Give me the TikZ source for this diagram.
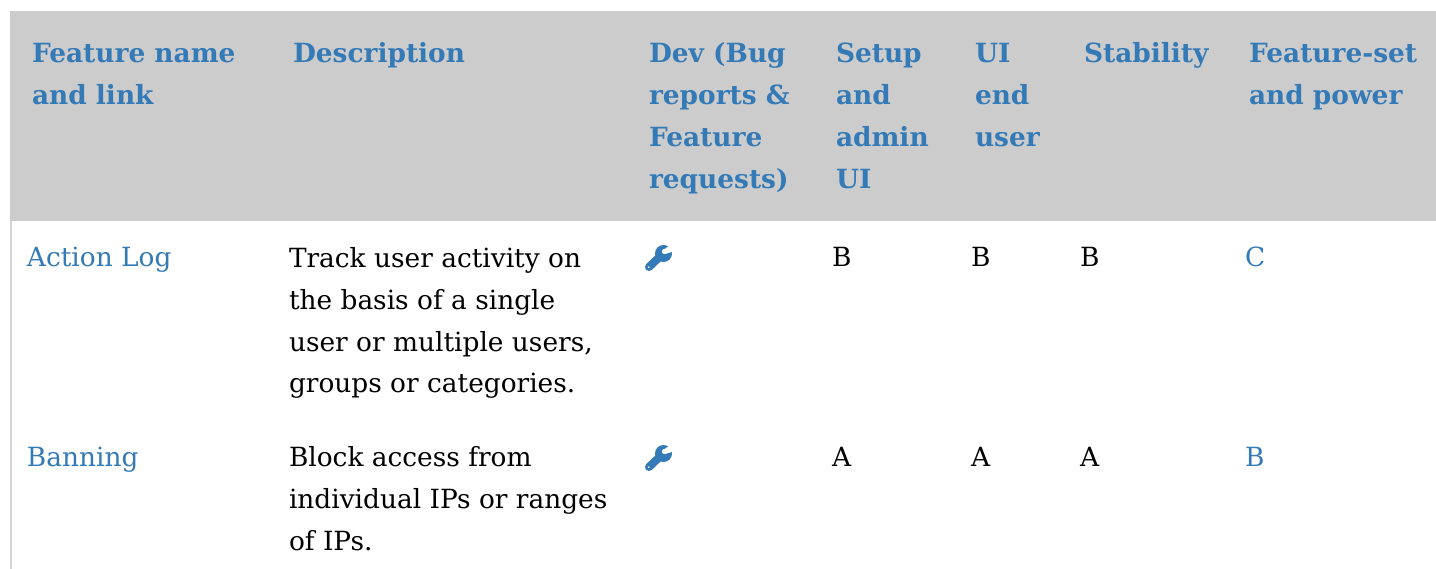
\documentclass[tikz,border=0pt]{standalone}
\usepackage{fontspec}
\setmainfont{DejaVu Serif}
\definecolor{linkblue}{HTML}{337AB7}
\definecolor{headgray}{HTML}{CCCCCC}
\tikzset{
  x=1pt,y=-1pt,
  cellbase/.style={inner sep=0pt,outer sep=0pt,anchor=base west,align=left,font=\fontsize{26.4}{42}\selectfont},
  headcell/.style={cellbase,text=linkblue,font=\fontsize{26.4}{42}\selectfont\bfseries},
  linkcell/.style={cellbase,text=linkblue},
  bodycell/.style={cellbase,text=black},
  wrench/.pic={
    \draw[linkblue,line width=8pt,line cap=round] (5,22) -- (15,12.5);
    \fill[linkblue] (19.5,8.5) circle (8.5);
    \fill[white] (20.5,6.5) circle (2.6);
    \fill[white] (19.5,4.8) -- (26.5,0) -- (29.5,6.5) -- (21.8,8.8) -- cycle;
    \fill[white] (4.8,22.2) circle (0.9);
  }
}
\begin{document}
\begin{tikzpicture}
\useasboundingbox (0,0) rectangle (1436,569);
\fill[white] (0,0) rectangle (1436,569);
\fill[headgray] (10,11) rectangle (1436,221);
\fill[headgray!85!white] (10,221) rectangle (12,569);
\node[headcell] (h1) at (32,105) {Feature name\\and link};
\node[headcell] (h2) at (293,63) {Description};
\node[headcell] (h3) at (649,189) {Dev (Bug\\reports \&\\Feature\\requests)};
\node[headcell] (h4) at (836,189) {Setup\\and\\admin\\UI};
\node[headcell] (h5) at (975,147) {UI\\end\\user};
\node[headcell] (h6) at (1084,63) {Stability};
\node[headcell] (h7) at (1249,105) {Feature-set\\and power};
\node[linkcell] (a1) at (27,267) {Action Log};
\node[bodycell] (a2) at (289,393) {Track user activity on\\the basis of a single\\user or multiple users,\\groups or categories.};
\pic at (644,245) {wrench};
\node[bodycell] (a4) at (832,267) {B};
\node[bodycell] (a5) at (971,267) {B};
\node[bodycell] (a6) at (1080,267) {B};
\node[linkcell] (a7) at (1245,267) {C};
\node[linkcell] (b1) at (27,466) {Banning};
\node[bodycell] (b2) at (289,550) {Block access from\\individual IPs or ranges\\of IPs.};
\pic at (644,445) {wrench};
\node[bodycell] (b4) at (832,466) {A};
\node[bodycell] (b5) at (971,466) {A};
\node[bodycell] (b6) at (1080,466) {A};
\node[linkcell] (b7) at (1245,466) {B};
\end{tikzpicture}
\end{document}
